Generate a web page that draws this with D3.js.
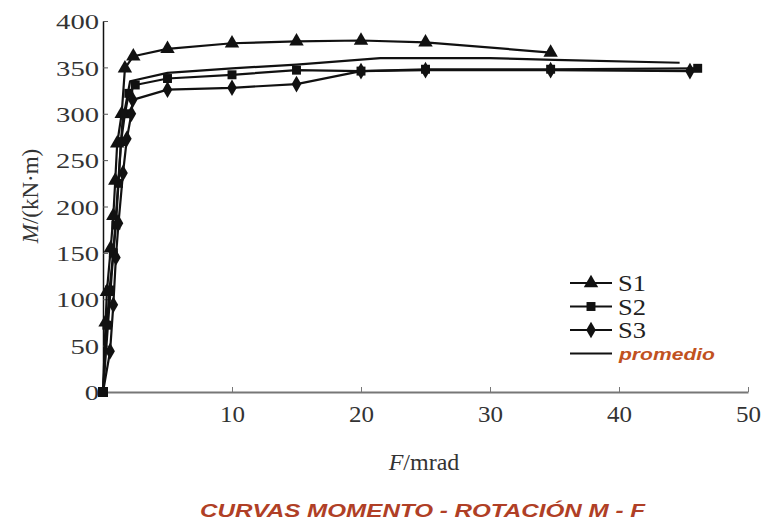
<!DOCTYPE html>
<html>
<head>
<meta charset="utf-8">
<script src="https://cdn.jsdelivr.net/npm/d3@7"></script>
<style>
  body { margin: 0; background: #fff; }
</style>
</head>
<body>
<div id="chart"></div>
<script>
// data: [rotation mrad, moment kN·m]
const s1 = [[0,0],[0.2,75],[0.3,108],[0.6,155],[0.8,190],[0.95,228],[1.1,268],[1.45,300],[1.7,349],[2.35,362],[5,370],[10,376],[15,378],[20,379],[25,377],[34.7,366]]
const s2 = [[0,0],[0.3,72],[0.5,110],[0.8,150],[1.0,180],[1.2,225],[1.4,270],[1.7,300],[2.0,322],[2.5,331],[5,338],[10,342],[15,347],[20,346],[25,348],[34.7,348],[46.1,349]]
const s3 = [[0,0],[0.55,44],[0.8,94],[1.0,145],[1.2,182],[1.55,236],[1.85,273],[2.2,300],[2.3,315],[5,326],[10,328],[15,332],[20,346],[25,347],[34.7,347],[45.5,346]]
const promedio = [[0,0],[0.8,150],[1.5,290],[2.1,335],[5,344],[10,349],[15,353],[21.5,360],[30,360],[35,358],[44.7,355]]
const seriesNames = ["S1","S2","S3","promedio"]
const xTicks = [10,20,30,40,50]
const yTicks = [0,50,100,150,200,250,300,350,400]

const W = 764, H = 521
const margin = { top: 21, right: 16, bottom: 129, left: 103 }
const width = W - margin.left - margin.right
const height = H - margin.top - margin.bottom
const serif = "'Liberation Serif', 'Times New Roman', Times, serif"

const svg = d3.select("#chart").append("svg")
    .attr("width", W)
    .attr("height", H)

const g = svg.append("g")
    .attr("transform", "translate(" + margin.left + "," + margin.top + ")")

const x = d3.scaleLinear().domain([0, 50]).range([0, width])
const y = d3.scaleLinear().domain([0, 400]).range([height, 0])

// axes
const xAxis = g.append("g")
    .attr("transform", "translate(0," + height + ")")
    .call(d3.axisBottom(x).tickValues(xTicks).tickSizeInner(-5).tickSizeOuter(0).tickPadding(14))
xAxis.attr("font-family", serif)
xAxis.select(".domain").attr("stroke", "#777").attr("stroke-width", 2)
xAxis.selectAll(".tick line").attr("stroke", "#777")
xAxis.selectAll(".tick text")
    .attr("fill", "#333")
    .style("font-size", "23px")
    .attr("textLength", d => String(d).length * 12.5)
    .attr("lengthAdjust", "spacingAndGlyphs")

const yAxis = g.append("g")
    .call(d3.axisLeft(y).tickValues(yTicks).tickSizeInner(-5).tickSizeOuter(0).tickPadding(4))
yAxis.attr("font-family", serif)
yAxis.select(".domain").attr("stroke", "#111").attr("stroke-width", 1.5)
yAxis.selectAll(".tick line").attr("stroke", "#555")
yAxis.selectAll(".tick text")
    .attr("fill", "#333")
    .style("font-size", "22px")
    .attr("dy", "0.35em")
    .attr("textLength", d => String(d).length * 14.3)
    .attr("lengthAdjust", "spacingAndGlyphs")

// lines
const line = d3.line().x(d => x(d[0])).y(d => y(d[1]))
const allSeries = [s1, s2, s3, promedio]
g.selectAll(".curve")
    .data(allSeries)
    .enter().append("path")
    .attr("class", "curve")
    .attr("d", line)
    .attr("fill", "none")
    .attr("stroke", "#111")
    .attr("stroke-width", 2.2)
    .attr("stroke-linejoin", "round")

// markers
const symbols = [d3.symbolTriangle, d3.symbolSquare, d3.symbolDiamond]
const sizes = [90, 80, 80]
;[s1, s2, s3].forEach(function (s, i) {
    g.selectAll(".m" + i)
        .data(s.slice(1))
        .enter().append("path")
        .attr("class", "m" + i)
        .attr("d", d3.symbol().type(symbols[i]).size(sizes[i]))
        .attr("transform", d => "translate(" + x(d[0]) + "," + y(d[1]) + ")")
        .attr("fill", "#111")
})
// square at origin
g.append("path")
    .attr("d", d3.symbol().type(d3.symbolSquare).size(100))
    .attr("transform", "translate(" + x(0) + "," + y(0) + ")")
    .attr("fill", "#111")

// legend
const legend = svg.append("g").attr("transform", "translate(570,283)")
seriesNames.forEach(function (name, i) {
    const row = legend.append("g").attr("transform", "translate(0," + (i * 23.5) + ")")
    row.append("line")
        .attr("x1", 0).attr("x2", 42).attr("y1", 0).attr("y2", 0)
        .attr("stroke", "#111").attr("stroke-width", 2.2)
    if (i < 3) {
        row.append("path")
            .attr("d", d3.symbol().type(symbols[i]).size(sizes[i]))
            .attr("transform", "translate(21,0)")
            .attr("fill", "#111")
        row.append("text")
            .attr("x", 48).attr("y", 8)
            .style("font-family", serif)
            .style("font-size", "23px")
            .attr("fill", "#222")
            .attr("textLength", 28)
            .attr("lengthAdjust", "spacingAndGlyphs")
            .text(name)
    } else {
        row.append("text")
            .attr("x", 49).attr("y", 6)
            .style("font-family", "'Liberation Sans', Arial, sans-serif")
            .style("font-size", "17px")
            .style("font-weight", "bold")
            .style("font-style", "italic")
            .attr("fill", "#c1521f")
            .attr("textLength", 96)
            .attr("lengthAdjust", "spacingAndGlyphs")
            .text(name)
    }
})

// axis titles
const yLab = svg.append("text")
    .attr("transform", "translate(38,196) rotate(-90)")
    .attr("text-anchor", "middle")
    .style("font-family", serif)
    .style("font-size", "23px")
    .attr("fill", "#333")
yLab.append("tspan").style("font-style", "italic").text("M")
yLab.append("tspan").text("/(kN·m)")

const xLab = svg.append("text")
    .attr("x", 424).attr("y", 470)
    .attr("text-anchor", "middle")
    .style("font-family", serif)
    .style("font-size", "24px")
    .attr("fill", "#333")
xLab.append("tspan").style("font-style", "italic").text("F")
xLab.append("tspan").text("/mrad")

svg.append("text")
    .attr("x", 200).attr("y", 517)
    .style("font-family", "'Liberation Sans', Arial, sans-serif")
    .style("font-size", "18px")
    .style("font-weight", "bold")
    .style("font-style", "italic")
    .attr("fill", "#b03f26")
    .attr("textLength", 445)
    .attr("lengthAdjust", "spacingAndGlyphs")
    .text("CURVAS MOMENTO - ROTACIÓN M - F")
</script>
</body>
</html>
